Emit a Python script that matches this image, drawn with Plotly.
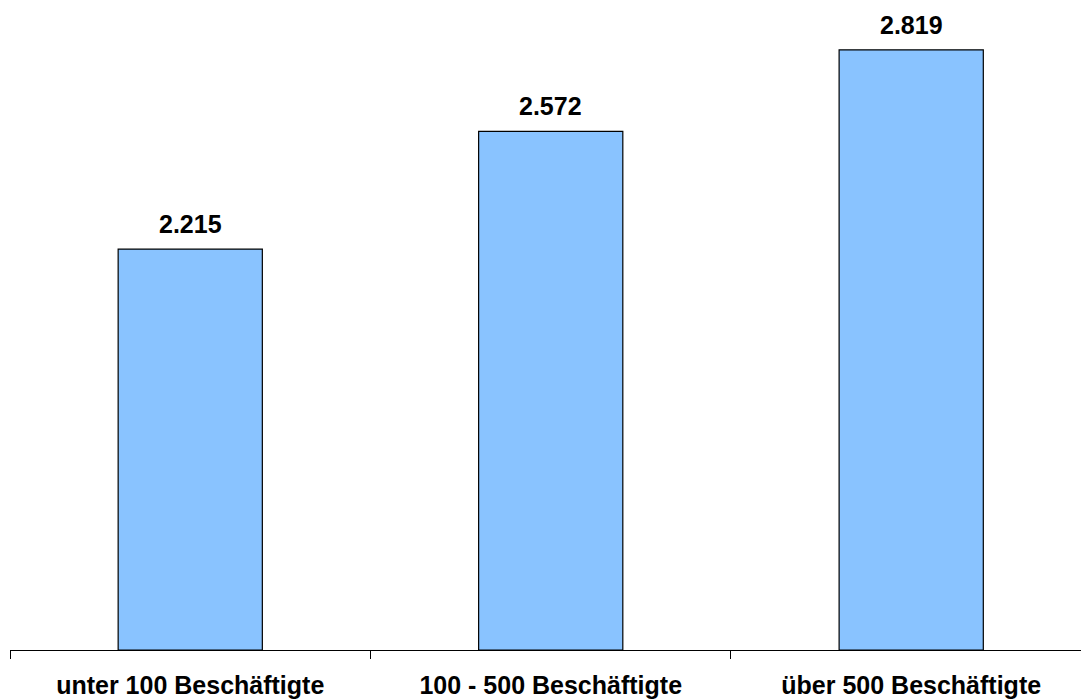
import plotly.graph_objects as go

categories = ["unter 100 Beschäftigte", "100 - 500 Beschäftigte", "über 500 Beschäftigte"]
values = [2.215, 2.572, 2.819]
value_labels = ["2.215", "2.572", "2.819"]
base_value = 1.0

fig = go.Figure()
fig.add_trace(go.Bar(
    x=categories, y=[v - base_value for v in values],
    base=base_value,
    marker=dict(color="#89C3FF", line=dict(color="#000000", width=1.2)),
    width=0.4,
    hoverinfo="skip",
))

for c, v, t in zip(categories, values, value_labels):
    fig.add_annotation(x=c, y=v, text="<b>%s</b>" % t, showarrow=False,
                       yanchor="bottom", yshift=9,
                       font=dict(family="Liberation Sans, Arial", size=25, color="#000000"))

fig.update_layout(
    width=1081, height=700,
    margin=dict(l=10, r=0, t=0, b=50, autoexpand=False),
    paper_bgcolor="white", plot_bgcolor="white",
    showlegend=False,
    font=dict(family="Liberation Sans, Arial", size=25, color="#000000"),
)
fig.update_xaxes(
    type="category",
    range=[-0.5, 2.471],
    automargin=False,
    showline=True, linecolor="#000000", linewidth=1,
    ticks="outside", tickson="boundaries", ticklen=8, tickcolor="#000000", tickwidth=1,
    tickvals=categories,
    ticktext=["<b>%s</b>" % c for c in categories],
    tickfont=dict(family="Liberation Sans, Arial", size=25, color="#000000"),
    ticklabelstandoff=13,
    showgrid=False, zeroline=False,
)
fig.update_yaxes(range=[1.0, 2.97], visible=False, showgrid=False, zeroline=False, automargin=False)

fig.write_html("out.html", config={"displayModeBar": False},
               post_script="document.body.style.margin='0';document.body.style.padding='0';")
